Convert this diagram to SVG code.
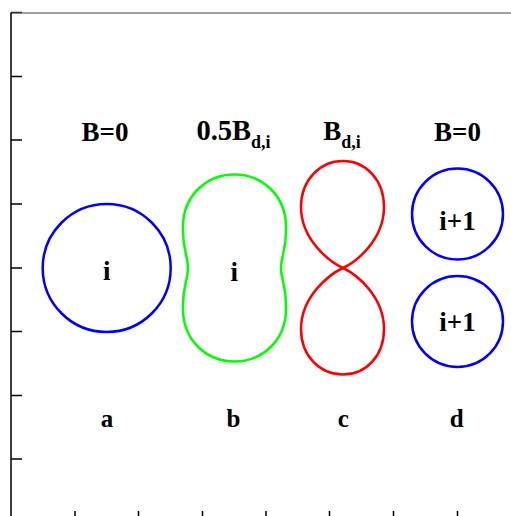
<svg xmlns="http://www.w3.org/2000/svg" width="511" height="516" viewBox="0 0 511 516">
<style>
.t{font-family:"Liberation Serif","Times New Roman",serif;font-weight:bold;fill:#000;text-anchor:middle}
.h{font-size:27px}
.s{font-size:18px}
.l{font-size:25px}
.sh{fill:none;stroke-width:2.5}
.ax{stroke:#000;stroke-width:1.5;fill:none}
</style>
<rect width="511" height="516" fill="#fff"/>
<g id="frame">
<line x1="11" y1="13" x2="511" y2="13" stroke="#808080" stroke-width="1.5"/>
<line x1="11" y1="12.5" x2="22" y2="12.5" stroke="#333" stroke-width="1.5"/>
<line class="ax" x1="11" y1="12.5" x2="11" y2="516"/>
<path class="ax" d="M11,76.5H22M11,140H22M11,204H22M11,268H22M11,331.5H22M11,395.5H22M11,459H22"/>
<path class="ax" d="M75,511V516M138.5,511V516M202.5,511V516M266,511V516M329.5,511V516M393.5,511V516M457.5,511V516"/>
</g>
<g id="title-a"><text class="t h" x="105" y="141">B=0</text></g>
<g id="title-b"><text class="t h" x="233.5" y="140" style="font-size:28.5px">0.5B<tspan class="s" dy="8">d,i</tspan></text></g>
<g id="title-c"><text class="t h" x="342" y="140">B<tspan class="s" dy="8">d,i</tspan></text></g>
<g id="title-d"><text class="t h" x="457.5" y="141">B=0</text></g>
<g id="node-a">
<circle class="sh" cx="106.7" cy="268" r="64" stroke="#0000ff"/>
<text class="t h" x="106.7" y="280">i</text>
</g>
<g id="node-b">
<path class="sh" stroke="#00ff00" d="M234.5,174.5 C262,174.5 285,195 286,225 C287,250 281,255 281,268 C281,281 287,286 286,311 C285,341 262,361.5 234.5,361.5 C207,361.5 184,341 183,311 C182,286 188,281 188,268 C188,255 182,250 183,225 C184,195 207,174.5 234.5,174.5 Z"/>
<text class="t h" x="234.2" y="280.5">i</text>
</g>
<g id="node-c">
<path class="sh" stroke="#ff0000" d="M343,268 C330,262 301,240 301,207 C301,180 320,161 343,161 C366,161 384,180 384,207 C384,240 356,262 343,268 Z"/>
<path class="sh" stroke="#ff0000" d="M343,268 C330,274 301,296 301,329 C301,356 320,374.5 343,374.5 C366,374.5 384,356 384,329 C384,296 356,274 343,268 Z"/>
</g>
<g id="node-d1">
<circle class="sh" cx="457.5" cy="214" r="45.5" stroke="#0000ff"/>
<text class="t h" x="457.5" y="230">i+1</text>
</g>
<g id="node-d2">
<circle class="sh" cx="457.5" cy="321.5" r="45.5" stroke="#0000ff"/>
<text class="t h" x="457.5" y="331">i+1</text>
</g>
<g id="labels">
<text class="t l" x="107" y="427">a</text>
<text class="t l" x="233.5" y="427">b</text>
<text class="t l" x="343.3" y="427">c</text>
<text class="t l" x="456.7" y="427">d</text>
</g>
</svg>
